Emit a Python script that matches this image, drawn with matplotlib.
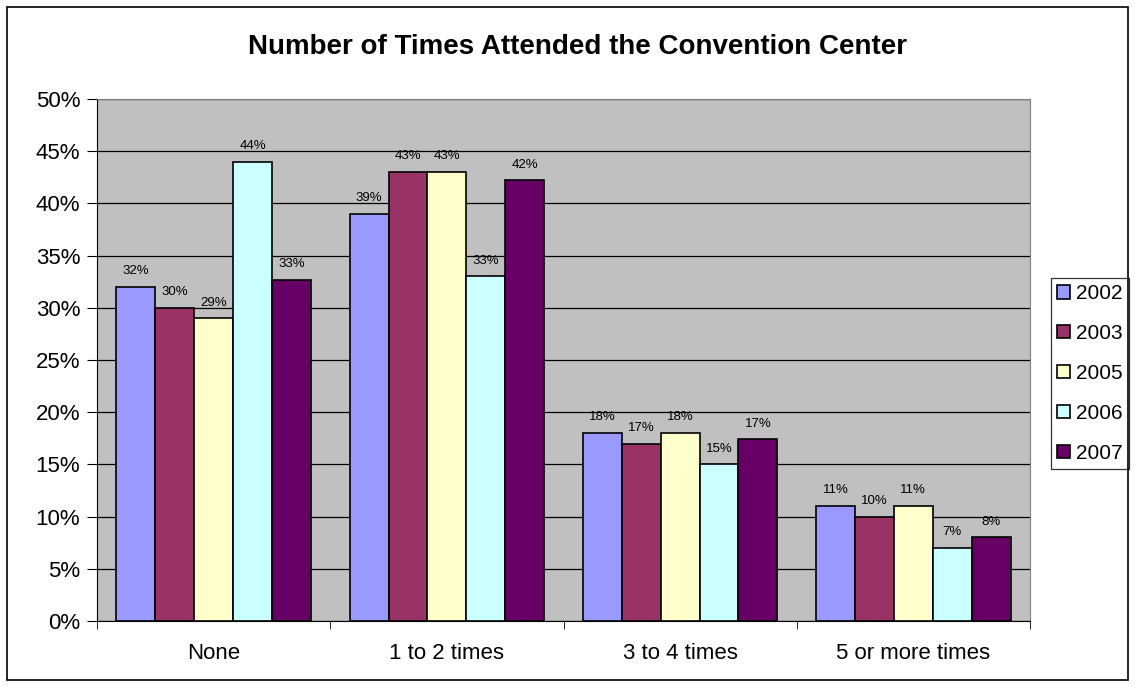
import numpy as np
import matplotlib
matplotlib.use("Agg")
import matplotlib.pyplot as plt
from matplotlib.patches import Rectangle

plt.rcParams['font.family'] = ['Liberation Sans', 'DejaVu Sans']

# Data
categories = ["None", "1 to 2 times", "3 to 4 times", "5 or more times"]
years = ["2002", "2003", "2005", "2006", "2007"]
v2002 = [32, 39, 18, 11]
v2003 = [30, 43, 17, 10]
v2005 = [29, 43, 18, 11]
v2006 = [44, 33, 15, 7]
v2007 = [32.7, 42.2, 17.4, 8.0]
series = [v2002, v2003, v2005, v2006, v2007]
colors = ["#9999FF", "#993366", "#FFFFCC", "#CCFFFF", "#660066"]

fig = plt.figure(figsize=(11.35, 6.87), dpi=100)
# outer chart border
fig.patches.append(Rectangle((7 / 1135, 7 / 687), 1121 / 1135, 673 / 687,
                             transform=fig.transFigure, fill=False,
                             edgecolor="black", linewidth=1.2))

ax = fig.add_axes([97 / 1135, 1 - 621 / 687, 933 / 1135, 522 / 687])
ax.set_facecolor("#C0C0C0")

bw = 1 / 6
x = np.arange(len(categories))
for i, (vals, col) in enumerate(zip(series, colors)):
    pos = x - 2 * bw + i * bw
    ax.bar(pos, vals, width=bw, color=col, edgecolor="black", linewidth=1.2,
           label=years[i], zorder=3)
    for p, v in zip(pos, vals):
        ax.annotate(f"{v:.0f}%", (p, v), xytext=(0, 7), textcoords="offset points",
                    ha="center", va="bottom", fontsize=9.5, zorder=4)

ax.set_xlim(-0.5, len(categories) - 0.5)
ax.set_ylim(0, 50)
ax.set_yticks(np.arange(0, 51, 5))
ax.set_yticklabels([f"{t}%" for t in range(0, 51, 5)], fontsize=16)
ax.yaxis.grid(True, color="black", linewidth=0.9, zorder=1)
ax.set_axisbelow(True)

ax.set_xticks(x)
ax.set_xticklabels(categories, fontsize=16)
ax.tick_params(axis="x", length=0, pad=16)
ax.set_xticks(np.arange(-0.5, len(categories), 1), minor=True)
ax.tick_params(axis="x", which="minor", length=6, direction="out", color="black")
ax.tick_params(axis="y", length=7, direction="out", pad=5)

for s in ["top", "right"]:
    ax.spines[s].set_color("#808080")
for s in ["left", "bottom"]:
    ax.spines[s].set_color("black")

fig.text(577 / 1135, 1 - 47 / 687, "Number of Times Attended the Convention Center",
         ha="center", va="center", fontsize=20, fontweight="bold")

leg = ax.legend(loc="upper left", bbox_to_anchor=(1051 / 1135, 1 - 278 / 687),
                bbox_transform=fig.transFigure, fontsize=15, frameon=True,
                fancybox=False, edgecolor="black", handlelength=0.6,
                handleheight=0.6, handletextpad=0.3, labelspacing=1.0,
                borderpad=0.3, borderaxespad=0)
leg.get_frame().set_linewidth(0.9)

fig.savefig("out.png", dpi=100)
